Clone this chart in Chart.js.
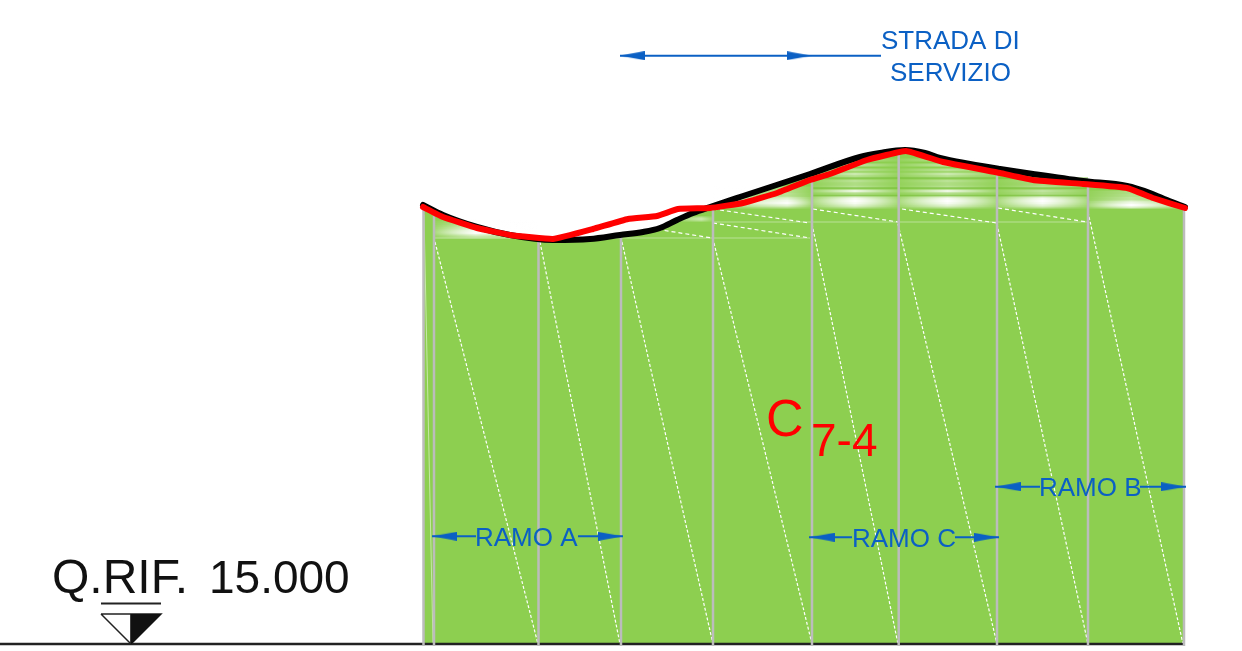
<!DOCTYPE html>
<html>
<head>
<meta charset="utf-8">
<title>C7-4</title>
<script src="https://cdn.jsdelivr.net/npm/chart.js@4/dist/chart.umd.min.js"></script>
<style>
    html, body { margin: 0; padding: 0; background: #ffffff; overflow: hidden; }
    canvas { display: block; }
</style>
</head>
<body>
<canvas id="sectionChart" width="1242" height="651"></canvas>
<script>
// Profiles, in drawing units from the section origin (x) and above Q.RIF. (y)
const blackX = [-1, 19, 53, 86, 129, 166, 196, 219, 236, 253, 269, 286, 319, 386, 436, 456, 481, 501, 516, 546, 576, 609, 659, 703, 726, 743, 761];
const blackY = [439, 429, 417, 409, 404, 405, 409, 412, 416, 424, 431, 437, 448, 470, 487, 491, 494, 491, 486, 480, 475, 470, 463, 458, 451, 444, 437];
const redX = [-1, 19, 53, 86, 129, 169, 204, 233, 254, 286, 319, 353, 386, 406, 443, 482, 519, 576, 609, 659, 703, 729, 761];
const redY = [437, 427, 416, 409, 405, 415, 425, 428, 435, 436, 441, 451, 464, 470, 484, 493, 482, 471, 464, 460, 456, 446, 436];

// Vertical posts
const postX = [-0.5, 10, 114.5, 197, 289, 388, 474.7, 573, 664, 760];
const postTop = [438, 429, 406, 412, 434, 464, 492, 472, 459, 436];

// Long white diagonals
const diagTopX = [11, 116, 198, 290, 388, 474, 573, 664];
const diagTopY = [402, 402, 402, 401, 420, 420, 420, 432];
const diagBottomX = [114, 196, 289, 388, 474, 573, 664, 759];

// Short white dashes near the top
const dashFromX = [206, 289, 289, 389, 478, 574];
const dashFromY = [419, 421, 435, 435, 435, 436];
const dashToX = [288, 386, 386, 474, 573, 663];
const dashToY = [406, 406, 421, 422, 421, 422];

// Pale streaks under the profile
const streakA = { from: 10, to: 114, peak: 0.4, levels: [423, 421, 419, 417, 415, 413, 411, 409, 407], strength: [0.2, 0.3, 0.4, 0.55, 0.7, 0.9, 0.95, 0.6, 0.35] };
const streakB = { from: 250, to: 289, peak: 0.7, levels: [426, 424], strength: [0.4, 0.4] };
const streakC = { from: 289, to: 388, peak: 0.75, levels: [456, 453, 450, 447, 445, 443, 441, 439, 437], strength: [0.3, 0.35, 0.4, 0.45, 0.65, 0.85, 0.95, 0.7, 0.4] };
const streakD = { from: 388, to: 474, peak: 0.5, levels: [484, 479, 474, 470, 467, 463, 460, 457, 453, 450, 447, 445, 443, 441, 439, 437], strength: [0.35, 0.45, 0.4, 0.55, 0.35, 0.4, 0.3, 0.4, 0.85, 0.35, 0.6, 0.9, 1, 0.9, 0.7, 0.45] };
const streakE = { from: 474, to: 573, peak: 0.5, levels: [484, 479, 474, 470, 467, 463, 460, 457, 453, 450, 447, 445, 443, 441, 439, 437], strength: [0.35, 0.45, 0.4, 0.55, 0.35, 0.4, 0.3, 0.4, 0.85, 0.35, 0.6, 0.9, 1, 0.9, 0.7, 0.45] };
const streakF = { from: 573, to: 664, peak: 0.5, levels: [463, 460, 457, 453, 450, 447, 445, 443, 441, 439, 437], strength: [0.3, 0.25, 0.35, 0.45, 0.35, 0.6, 0.9, 1, 0.9, 0.7, 0.45] };
const streakG = { from: 664, to: 760, peak: 0.45, levels: [452, 449, 446, 443, 441, 439, 437], strength: [0.3, 0.35, 0.45, 0.6, 0.8, 1, 0.7] };
const streaks = [streakA, streakB, streakC, streakD, streakE, streakF, streakG];

// Darker green rows across the ridge
const shadeLevels = [466, 456, 448.5];

const GREEN = '#8dcf50';
const BLUE = '#0b60c4';
const POST = '#bcbcbc';

function pts(xs, ys) {
    return xs.map((x, i) => ({ x: x, y: ys[i] }));
}

const datasets = [];

// order: the higher number is drawn first
function addLine(data, color, width, order, extra) {
    datasets.push(Object.assign({
        data: data,
        borderColor: color,
        borderWidth: width,
        pointRadius: 0,
        tension: 0,
        fill: false,
        order: order
    }, extra || {}));
}

// Green body, bounded by the black profile
addLine(pts(blackX, blackY), 'rgba(0,0,0,0)', 0, 100, {
    cubicInterpolationMode: 'monotone',
    fill: { target: { value: 0 } },
    backgroundColor: GREEN
});

streaks.forEach(s => {
    s.levels.forEach((level, i) => {
        addLine(pts([s.from, s.to], [level, level]), ctx => {
            // the scales are not ready on the first pass
            if (!ctx.chart.chartArea) return 'rgba(255,255,255,0)';
            const xs = ctx.chart.scales.x;
            const g = ctx.chart.ctx.createLinearGradient(xs.getPixelForValue(s.from), 0, xs.getPixelForValue(s.to), 0);
            const edge = (s.strength[i] * 0.18).toFixed(3);
            g.addColorStop(0, 'rgba(255,255,255,' + edge + ')');
            g.addColorStop(s.peak, 'rgba(255,255,255,' + s.strength[i] + ')');
            g.addColorStop(1, 'rgba(255,255,255,' + edge + ')');
            return g;
        }, 3, 90, { borderCapStyle: 'butt' });
    });
});

shadeLevels.forEach(level => {
    addLine(pts([388, 664], [level, level]), 'rgba(112,186,44,0.55)', 1.5, 85);
});

// Faint horizontals
addLine(pts([10, 386], [406, 406]), 'rgba(255,255,255,0.4)', 1, 80);
addLine(pts([289, 664], [422, 422]), 'rgba(255,255,255,0.4)', 1, 80);

diagTopX.forEach((x, i) => {
    addLine(pts([x, diagBottomX[i]], [diagTopY[i], 0]), '#ffffff', 1.2, 70, { borderDash: [3, 2] });
});
dashFromX.forEach((x, i) => {
    addLine(pts([x, dashToX[i]], [dashFromY[i], dashToY[i]]), '#ffffff', 1.2, 70, { borderDash: [4, 3] });
});
addLine(pts([0, 9], [429, 0]), 'rgba(255,255,255,0.5)', 1, 70);

// Base line and reference marker
addLine(pts([-424, 759], [0, 0]), '#222222', 2.5, 65);
postX.forEach((x, i) => {
    addLine(pts([x, x], [postTop[i], -2]), POST, 2.5, 60);
});
addLine(pts([-323, -263], [40.5, 40.5]), '#222222', 2, 60);
addLine(pts([-293, -263], [0, 30]), '#111111', 1, 60, {
    fill: { target: { value: 30 } },
    backgroundColor: '#111111'
});
addLine(pts([-323, -263, -293, -323], [30, 30, 0, 30]), '#222222', 1.5, 60);
addLine(pts([-293, -293], [30, 0]), '#222222', 1, 60);

// Profiles on top
addLine(pts(blackX, blackY), '#000000', 6, 20, { cubicInterpolationMode: 'monotone', borderCapStyle: 'round' });
addLine(pts(redX, redY), '#ff0000', 6, 10, { tension: 0.1, borderCapStyle: 'round', borderJoinStyle: 'round' });

// Dimension arrows: shaft ends and head centres
const arrowHead = document.createElement('canvas');
arrowHead.width = 25;
arrowHead.height = 9;
const headCtx = arrowHead.getContext('2d');
headCtx.fillStyle = BLUE;
headCtx.beginPath();
headCtx.moveTo(0, 0);
headCtx.lineTo(25, 4.5);
headCtx.lineTo(0, 9);
headCtx.closePath();
headCtx.fill();

const arrowLevel = [588.3, 107.7, 107.7, 106.7, 106.7, 157.3, 157.3];
const shaftFrom = [196, 8, 154, 385, 531, 571, 716];
const shaftTo = [457, 52, 199, 428, 575, 616, 762];
const headLeftX = [208, 20.5, null, 398, null, 584, null];
const headRightX = [375, null, 186.5, null, 562.5, null, 749.5];

arrowLevel.forEach((level, i) => {
    addLine(pts([shaftFrom[i], shaftTo[i]], [level, level]), BLUE, 2, 5);
    if (headLeftX[i] !== null) {
        addLine([{ x: headLeftX[i], y: level }], BLUE, 0, 4, { pointRadius: 5, pointStyle: arrowHead, pointRotation: 180 });
    }
    if (headRightX[i] !== null) {
        addLine([{ x: headRightX[i], y: level }], BLUE, 0, 4, { pointRadius: 5, pointStyle: arrowHead, pointRotation: 0 });
    }
});

// Texts
const textStrings = ['STRADA DI', 'SERVIZIO', 'RAMO A', 'RAMO C', 'RAMO B', 'Q.RIF.', '15.000', 'C', '7-4'];
const textX = [457, 466, 51, 428, 615, -372, -215, 342, 387];
const textY = [595, 563, 98, 97, 148, 51, 51, 208, 188];
const textSize = [26, 26, 26, 26, 26, 48, 46, 52, 46];
const textColor = [BLUE, BLUE, BLUE, BLUE, BLUE, '#111111', '#111111', '#ff0000', '#ff0000'];

const textPlugin = {
    id: 'sectionTexts',
    afterDatasetsDraw(chart) {
        const c = chart.ctx;
        c.save();
        c.textAlign = 'left';
        c.textBaseline = 'alphabetic';
        textStrings.forEach((t, i) => {
            c.font = textSize[i] + 'px "Liberation Sans"';
            c.fillStyle = textColor[i];
            c.fillText(t, chart.scales.x.getPixelForValue(textX[i]), chart.scales.y.getPixelForValue(textY[i]));
        });
        c.restore();
    }
};

new Chart(document.getElementById('sectionChart').getContext('2d'), {
    type: 'line',
    data: { datasets: datasets },
    plugins: [textPlugin],
    options: {
        responsive: false,
        animation: false,
        events: [],
        layout: { padding: 0, autoPadding: false },
        plugins: {
            legend: { display: false },
            tooltip: { enabled: false }
        },
        scales: {
            x: { type: 'linear', display: false, min: -424, max: 818 },
            y: { type: 'linear', display: false, min: -7, max: 644 }
        }
    }
});
</script>
</body>
</html>
